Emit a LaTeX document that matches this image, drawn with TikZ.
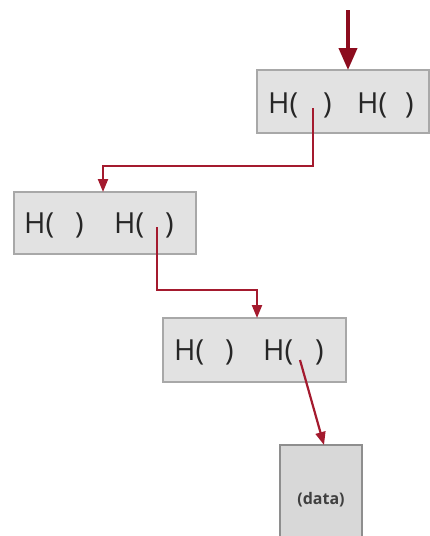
\documentclass[tikz,border=0pt]{standalone}
\usepackage{fontspec}
\setmainfont{Open Sans}
\usetikzlibrary{arrows.meta}
\definecolor{boxfill}{HTML}{E2E2E2}
\definecolor{boxline}{HTML}{A8A8A8}
\definecolor{datafill}{HTML}{D8D8D8}
\definecolor{dataline}{HTML}{8E8E8E}
\definecolor{ptr}{HTML}{A41A2E}
\definecolor{ptrdark}{HTML}{8C0C1E}
\begin{document}
\begin{tikzpicture}[x=1pt,y=-1pt,
  hbox/.style={draw=boxline,fill=boxfill,line width=1.4pt,inner sep=0pt},
  databox/.style={draw=dataline,fill=datafill,line width=1.4pt,inner sep=0pt},
  lbl/.style={anchor=base west,inner sep=0pt,text=black!85,font=\fontsize{29}{29}\selectfont},
  ptrline/.style={draw=ptr,line width=2.2pt,-{Triangle[length=13pt,width=10pt]}},
  rootline/.style={draw=ptrdark,line width=4pt,-{Triangle[length=22pt,width=18pt]}},
]
\useasboundingbox (0,0) rectangle (430,536);

% hash nodes
\node[hbox,minimum width=172pt,minimum height=63pt] (b1) at (343,101.5) {};
\node[hbox,minimum width=182pt,minimum height=62pt] (b2) at (105,223) {};
\node[hbox,minimum width=183pt,minimum height=64pt] (b3) at (254.5,350) {};
\node[databox,minimum width=82pt,minimum height=100pt] (d) at (321,495) {};

% hash labels
\node[lbl] (b1a) at (268,113) {H(};
\node[lbl] (b1b) at (323,113) {)};
\node[lbl] (b1c) at (357,113) {H(};
\node[lbl] (b1d) at (405,113) {)};

\node[lbl] (b2a) at (24,233) {H(};
\node[lbl] (b2b) at (75,233) {)};
\node[lbl] (b2c) at (114,233) {H(};
\node[lbl] (b2d) at (165,233) {)};

\node[lbl] (b3a) at (174,360) {H(};
\node[lbl] (b3b) at (225,360) {)};
\node[lbl] (b3c) at (263,360) {H(};
\node[lbl] (b3d) at (315,360) {)};

\node[inner sep=0pt,text=black!75,font=\fontsize{16}{16}\selectfont\bfseries] (dl) at (321,500) {(data)};

% pointer slots and entry points
\coordinate (top) at (348,10);
\coordinate (s1) at (313,108);
\coordinate (s2) at (157,227);
\coordinate (s3) at (300,360);
\coordinate (in1) at (348,70);
\coordinate (in2) at (103,192);
\coordinate (in3) at (257,318);
\coordinate (in4) at (324,445);

% connectors
\draw[rootline] (top) -- (in1);
\draw[ptrline] (s1) -- (s1 |- 0,166) -| (in2);
\draw[ptrline] (s2) -- (s2 |- 0,290) -| (in3);
\draw[ptrline] (s3) -- (in4);
\end{tikzpicture}
\end{document}
